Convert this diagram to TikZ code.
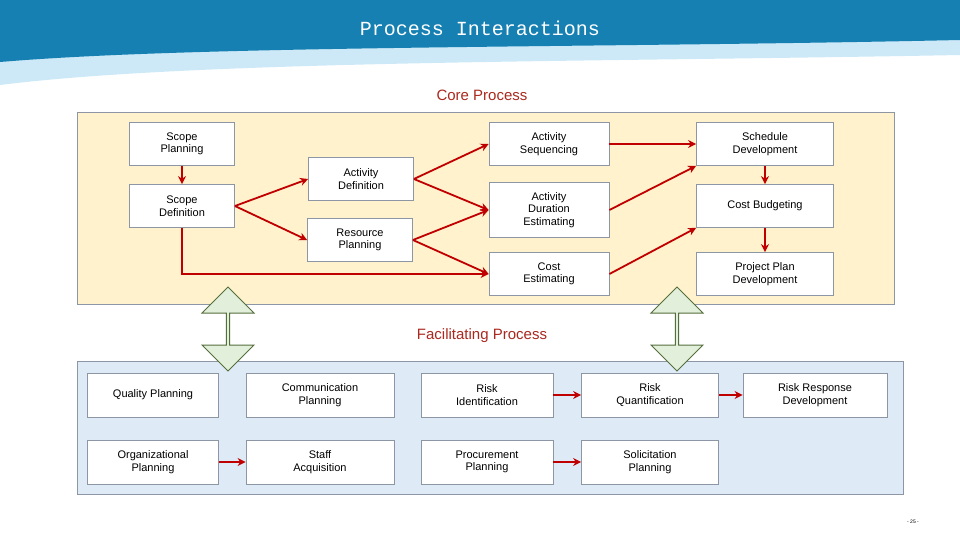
\documentclass[tikz,border=0pt]{standalone}
\usepackage{fontspec}
\setmainfont{Liberation Sans}
\setmonofont{Liberation Mono}
\usetikzlibrary{arrows.meta,shapes.arrows}
\definecolor{hdrblue}{RGB}{22,128,178}
\definecolor{hdrlight}{RGB}{205,232,246}
\definecolor{coreback}{RGB}{255,242,204}
\definecolor{facback}{RGB}{222,235,247}
\definecolor{boxline}{RGB}{140,150,165}
\definecolor{flow}{RGB}{192,0,0}
\definecolor{titlered}{RGB}{170,40,30}
\definecolor{arrfill}{RGB}{226,239,218}
\definecolor{arrline}{RGB}{84,110,60}
\tikzset{
  proc/.style={draw=boxline,fill=white,line width=0.8pt,align=center,font=\fontsize{11}{12.5}\selectfont,inner sep=0pt},
  flw/.style={draw=flow,line width=1.8pt,-{Stealth[length=8pt,width=8pt]}},
  dbl/.style={draw=arrline,fill=arrfill,line width=1pt,double arrow,double arrow head extend=8pt,minimum height=84pt,minimum width=52pt,rotate=90,inner sep=0pt}
}
\begin{document}
\begin{tikzpicture}[x=1pt,y=-1pt]
\useasboundingbox (0,0) rectangle (960,540);
% header
\fill[hdrlight] (0,50) -- (960,30) -- (960,55) .. controls (600,62) and (200,60) .. (0,85) -- cycle;
\fill[hdrblue] (0,0) -- (960,0) -- (960,40) .. controls (600,48) and (200,45) .. (0,62) -- cycle;
\node[text=white,font=\ttfamily\fontsize{20}{22}\selectfont] (title) at (480,28) {Process Interactions};
% core
\node[text=titlered,font=\fontsize{15}{17}\selectfont] (core) at (482,95) {Core Process};
\draw[boxline,fill=coreback,line width=0.8pt] (77,112) rectangle (894,304);
\node[proc,minimum width=105pt,minimum height=43pt] (sp) at (182,144) {Scope\\Planning};
\node[proc,minimum width=105pt,minimum height=43pt] (sd) at (182,206) {Scope\\Definition};
\node[proc,minimum width=105pt,minimum height=43pt] (ad) at (361,179) {Activity\\Definition};
\node[proc,minimum width=105pt,minimum height=43pt] (rp) at (360,240) {Resource\\Planning};
\node[proc,minimum width=120pt,minimum height=43pt] (as) at (549,144) {Activity\\Sequencing};
\node[proc,minimum width=120pt,minimum height=55pt] (ade) at (549,210) {Activity\\Duration\\Estimating};
\node[proc,minimum width=120pt,minimum height=43pt] (ce) at (549,274) {Cost\\Estimating};
\node[proc,minimum width=137pt,minimum height=43pt] (sdv) at (765,144) {Schedule\\Development};
\node[proc,minimum width=137pt,minimum height=43pt] (cb) at (765,206) {Cost Budgeting};
\node[proc,minimum width=137pt,minimum height=43pt] (ppd) at (765,274) {Project Plan\\Development};
\draw[flw] (sp) -- (sd);
\draw[flw] (sd.east) -- (ad.west);
\draw[flw] (sd.east) -- (rp.west);
\draw[flw] (sd.south) |- (ce.west);
\draw[flw] (ad.east) -- (as.west);
\draw[flw] (ad.east) -- (ade.west);
\draw[flw] (rp.east) -- (ade.west);
\draw[flw] (rp.east) -- (ce.west);
\draw[flw] (as) -- (sdv);
\draw[flw] (ade.east) -- (sdv.south west);
\draw[flw] (ce.east) -- (cb.south west);
\draw[flw] (sdv) -- (cb);
\draw[flw] (cb) -- (ppd);
% facilitating
\node[text=titlered,font=\fontsize{15}{17}\selectfont] (fac) at (482,336) {Facilitating Process};
\draw[boxline,fill=facback,line width=0.8pt] (77,361) rectangle (903,494);
\node[dbl] (dl) at (228,329) {};
\node[dbl] (dr) at (677,329) {};
\node[proc,minimum width=131pt,minimum height=44pt] (qp) at (153,395) {Quality Planning};
\node[proc,minimum width=131pt,minimum height=44pt] (op) at (153,462) {Organizational\\Planning};
\node[proc,minimum width=148pt,minimum height=44pt] (cp) at (320,395) {Communication\\Planning};
\node[proc,minimum width=148pt,minimum height=44pt] (sa) at (320,462) {Staff\\Acquisition};
\node[proc,minimum width=132pt,minimum height=44pt] (ri) at (487,395) {Risk\\Identification};
\node[proc,minimum width=132pt,minimum height=44pt] (pp) at (487,462) {Procurement\\Planning};
\node[proc,minimum width=137pt,minimum height=44pt] (rq) at (650,395) {Risk\\Quantification};
\node[proc,minimum width=137pt,minimum height=44pt] (slp) at (650,462) {Solicitation\\Planning};
\node[proc,minimum width=144pt,minimum height=44pt] (rrd) at (815,395) {Risk Response\\Development};
\draw[flw] (op) -- (sa);
\draw[flw] (ri) -- (rq);
\draw[flw] (pp) -- (slp);
\draw[flw] (rq) -- (rrd);
\node[font=\fontsize{5}{6}\selectfont] (pg) at (913,522) {- 25 -};
\end{tikzpicture}
\end{document}
